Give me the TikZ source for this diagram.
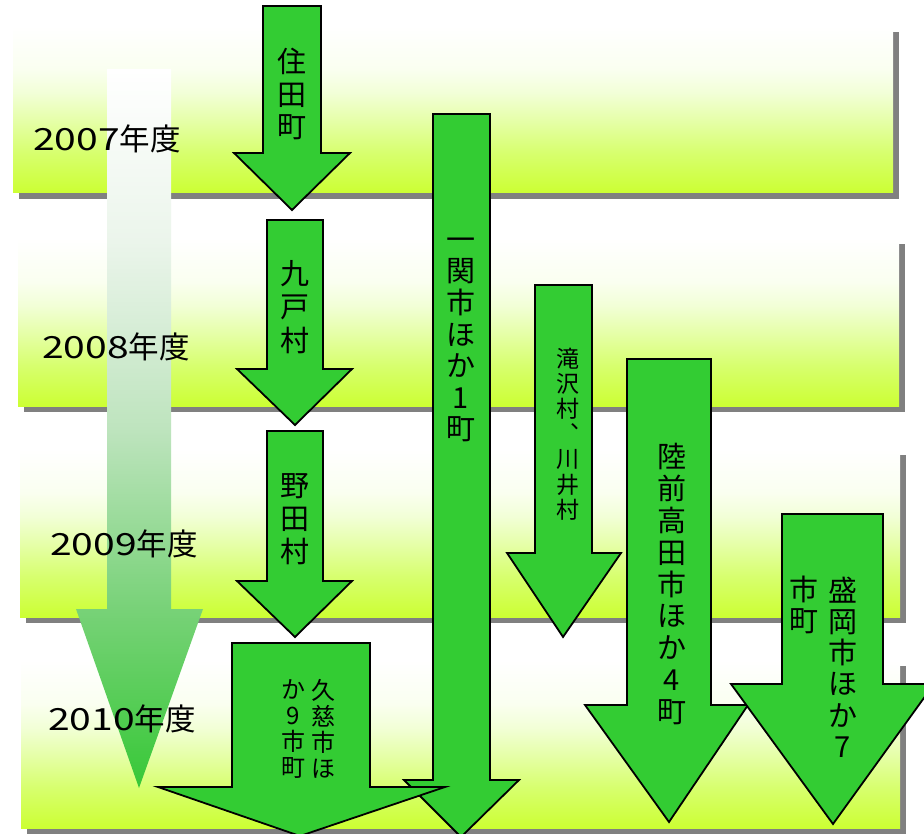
\documentclass[tikz,border=0pt]{standalone}
\usepackage{fontspec}
\setmainfont{Noto Sans CJK JP}
\usepackage{graphicx}
\definecolor{agreen}{RGB}{51,204,51}
\definecolor{limec}{RGB}{204,255,51}
\definecolor{limeb}{RGB}{215,255,110}
\definecolor{limea}{RGB}{230,255,170}
\definecolor{limed}{RGB}{242,255,215}
\definecolor{limee}{RGB}{250,255,240}
\definecolor{shadowgray}{RGB}{128,128,128}
\definecolor{tla}{RGB}{55,200,55}
\definecolor{tlb}{RGB}{120,210,120}
\definecolor{tlc}{RGB}{190,228,190}
\definecolor{tld}{RGB}{235,245,235}
\pgfdeclareverticalshading{bandshade}{100bp}{color(0bp)=(limec); color(25bp)=(limec); color(37bp)=(limeb); color(47bp)=(limea); color(55bp)=(limed); color(62bp)=(limee); color(75bp)=(white); color(100bp)=(white)}
\pgfdeclareverticalshading{tlshade}{100bp}{color(0bp)=(tla); color(25bp)=(tla); color(37.5bp)=(tlb); color(50bp)=(tlc); color(63bp)=(tld); color(75bp)=(white); color(100bp)=(white)}
\tikzset{
  band/.style={shading=bandshade, draw=none},
  bandshadow/.style={fill=shadowgray, draw=none},
  arrowshape/.style={fill=agreen, draw=black, line width=1.8pt, line join=miter},
  vlab/.style={align=center, inner sep=0pt, text=black},
  yearlab/.style={anchor=west, inner sep=0pt, font=\fontsize{30.5}{32}\selectfont, text=black}
}
\begin{document}
\begin{tikzpicture}[x=1pt,y=-1pt]
\useasboundingbox (0,0) rectangle (924,834);
\clip (0,0) rectangle (924,834);
\fill[white] (0,0) rectangle (924,834);
% bands with shadows
\path[bandshadow] (19,32) rectangle (899,199);
\path[band] (13,26) rectangle (893,193);
\path[bandshadow] (24,244) rectangle (905,412);
\path[band] (18,238) rectangle (899,406);
\path[bandshadow] (26,455) rectangle (906,623);
\path[band] (20,449) rectangle (900,617);
\path[bandshadow] (27,666) rectangle (906,834);
\path[band] (21,660) rectangle (900,828);
% timeline arrow
\path[shading=tlshade] (107,69) -- (171,69) -- (171,609) -- (203,609) -- (139,788) -- (76,609) -- (107,609) -- cycle;
% year labels
\node[yearlab] (y1) at (33,139) {\scalebox{1.28}[1]{2007}年度};
\node[yearlab] (y2) at (42,347) {\scalebox{1.28}[1]{2008}年度};
\node[yearlab] (y3) at (50,544) {\scalebox{1.28}[1]{2009}年度};
\node[yearlab] (y4) at (48,719) {\scalebox{1.28}[1]{2010}年度};
% arrows
\path[arrowshape] (263,6) -- (321,6) -- (321,153) -- (350,153) -- (292,210) -- (234,153) -- (263,153) -- cycle;
\node[vlab, font=\fontsize{29}{32.5}\selectfont] (a1) at (292,94) {住\\田\\町};
\path[arrowshape] (267,220) -- (323,220) -- (323,369) -- (352,369) -- (295,425) -- (237,369) -- (267,369) -- cycle;
\node[vlab, font=\fontsize{29}{33.5}\selectfont] (a2) at (295,307) {九\\戸\\村};
\path[arrowshape] (267,431) -- (323,431) -- (323,581) -- (352,581) -- (295,637) -- (237,581) -- (267,581) -- cycle;
\node[vlab, font=\fontsize{29}{33}\selectfont] (a3) at (295,519) {野\\田\\村};
\path[arrowshape] (433,114) -- (490,114) -- (490,780) -- (519,780) -- (461,837) -- (404,780) -- (433,780) -- cycle;
\node[vlab, font=\fontsize{29}{31.6}\selectfont] (a5) at (461,340) {一\\関\\市\\ほ\\か\\1\\町};
\path[arrowshape] (232,643) -- (370,643) -- (370,787) -- (445,787) -- (300,836) -- (158,787) -- (232,787) -- cycle;
\node[vlab, font=\fontsize{24}{26}\selectfont] (a4a) at (323,729) {久\\慈\\市\\ほ};
\node[vlab, font=\fontsize{24}{26}\selectfont] (a4b) at (293,729) {か\\9\\市\\町};
\path[arrowshape] (535,285) -- (592,285) -- (592,553) -- (621,553) -- (563,637) -- (507,553) -- (535,553) -- cycle;
\node[vlab, font=\fontsize{23}{25.2}\selectfont] (a6) at (568,434) {滝\\沢\\村\\︑\\川\\井\\村};
\path[arrowshape] (627,359) -- (711,359) -- (711,705) -- (748,705) -- (669,822) -- (585,705) -- (627,705) -- cycle;
\node[vlab, font=\fontsize{29}{31.9}\selectfont] (a7) at (672,584) {陸\\前\\高\\田\\市\\ほ\\か\\4\\町};
\path[arrowshape] (782,514) -- (883,514) -- (883,684) -- (934,684) -- (833,824) -- (731,684) -- (782,684) -- cycle;
\node[vlab, font=\fontsize{29}{31.2}\selectfont] (a8a) at (843,667) {盛\\岡\\市\\ほ\\か\\7};
\node[vlab, font=\fontsize{29}{30.5}\selectfont] (a8b) at (804,605) {市\\町};
\end{tikzpicture}
\end{document}
